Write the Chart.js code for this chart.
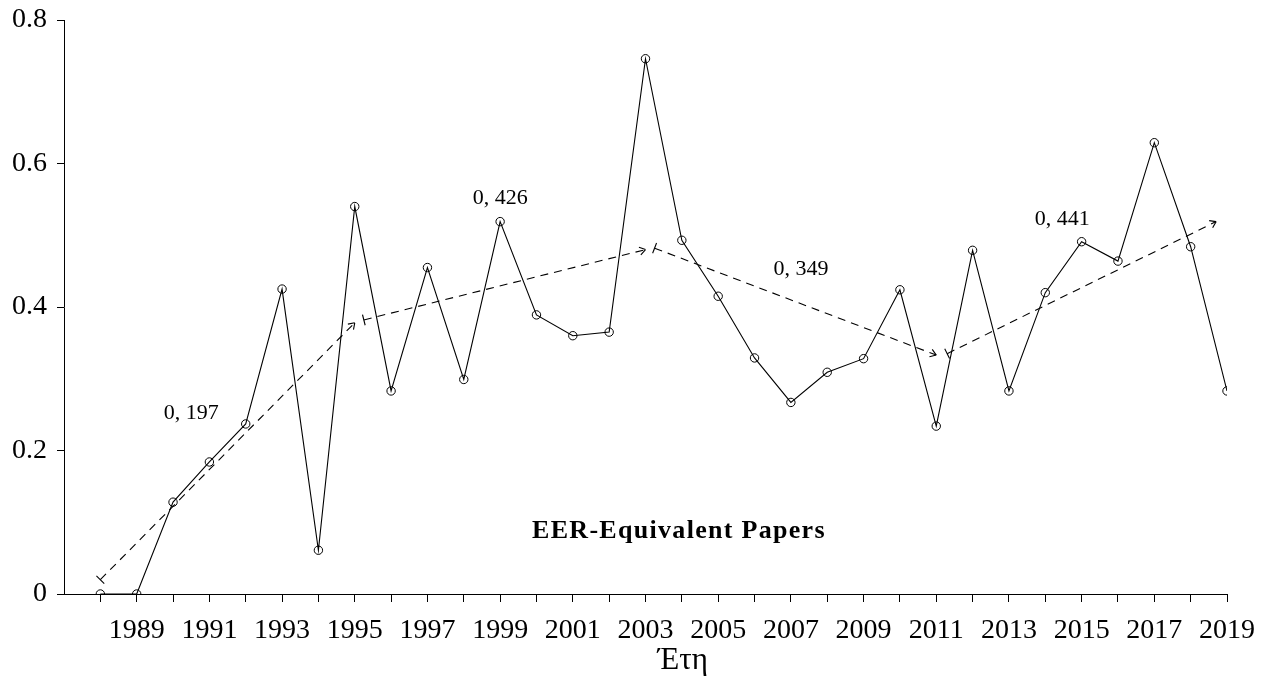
<!DOCTYPE html>
<html>
<head>
<meta charset="utf-8">
<script src="https://cdn.jsdelivr.net/npm/chart.js@4.4.1/dist/chart.umd.min.js"></script>
<style>
  body { margin: 0; background: #fff; }
  #wrap { width: 1270px; height: 695px; }
</style>
</head>
<body>
<div id="wrap"><canvas id="eer-chart"></canvas></div>
<script>
// Years and yearly values
const years = [1988, 1989, 1990, 1991, 1992, 1993, 1994, 1995,
               1996, 1997, 1998, 1999, 2000, 2001, 2002, 2003,
               2004, 2005, 2006, 2007, 2008, 2009, 2010, 2011,
               2012, 2013, 2014, 2015, 2016, 2017, 2018, 2019];
const values = [0, 0, 0.128, 0.184, 0.237, 0.425, 0.061, 0.540,
                0.283, 0.455, 0.299, 0.519, 0.389, 0.360, 0.365, 0.746,
                0.493, 0.415, 0.329, 0.267, 0.309, 0.328, 0.424, 0.234,
                0.479, 0.283, 0.420, 0.491, 0.464, 0.629, 0.484, 0.283];

// Dashed trend arrows, one per period
const trendFromYear = [1988, 1995.25, 2003.25, 2011.3];
const trendToYear = [1995, 2003, 2011, 2018.7];
const trendFromVal = [0.020, 0.382, 0.482, 0.335];
const trendToVal = [0.378, 0.480, 0.333, 0.519];

// Period means written on the chart
const meanLabels = ['0, 197', '0, 426', '0, 349', '0, 441'];
const meanX = [1990.5, 1999.0, 2007.28, 2014.47];
const meanY = [0.252, 0.552, 0.4525, 0.522];

const yTicks = [0, 0.2, 0.4, 0.6, 0.8];
const seriesName = 'EER-Equivalent Papers';
const xTitle = 'Έτη';

const serif = "'Liberation Serif', 'DejaVu Serif', serif";

const datasets = [{
    label: seriesName,
    data: years.map((y, i) => ({ x: y, y: values[i] })),
    borderColor: '#000',
    borderWidth: 1.1,
    backgroundColor: 'transparent',
    pointStyle: 'circle',
    pointRadius: 4.2,
    pointBorderWidth: 1,
    pointBorderColor: '#000',
    pointBackgroundColor: 'transparent',
    tension: 0
}];
trendFromYear.forEach((fx, i) => {
    datasets.push({
        label: 'trend' + i,
        data: [{ x: fx, y: trendFromVal[i] }, { x: trendToYear[i], y: trendToVal[i] }],
        borderColor: '#000',
        borderWidth: 1.1,
        borderDash: [8, 6],
        pointRadius: 0,
        isTrend: true
    });
});

// bar at start, open arrow head at end of each trend line + text
const decorations = {
    id: 'decorations',
    afterDatasetsDraw: (chart) => {
        const ctx = chart.ctx;
        const xs = chart.scales.x;
        const ys = chart.scales.y;
        ctx.save();
        ctx.strokeStyle = '#000';
        ctx.lineWidth = 1.1;
        chart.data.datasets.forEach((ds, i) => {
            if (!ds.isTrend) return;
            const pts = chart.getDatasetMeta(i).data;
            const a = pts[0], b = pts[1];
            const ang = Math.atan2(b.y - a.y, b.x - a.x);
            const nx = -Math.sin(ang), ny = Math.cos(ang);
            ctx.beginPath();
            ctx.moveTo(a.x + nx * 5.5, a.y + ny * 5.5);
            ctx.lineTo(a.x - nx * 5.5, a.y - ny * 5.5);
            ctx.stroke();
            ctx.beginPath();
            [0.6, -0.6].forEach(d => {
                ctx.moveTo(b.x, b.y);
                ctx.lineTo(b.x - 7 * Math.cos(ang + d), b.y - 7 * Math.sin(ang + d));
            });
            ctx.stroke();
        });

        ctx.fillStyle = '#000';
        ctx.textAlign = 'center';
        ctx.textBaseline = 'middle';
        ctx.font = '22px ' + serif;
        meanLabels.forEach((t, i) => {
            ctx.fillText(t, xs.getPixelForValue(meanX[i]), ys.getPixelForValue(meanY[i]));
        });

        ctx.font = 'bold 26px ' + serif;
        ctx.letterSpacing = '1.3px';
        ctx.fillText(seriesName, xs.getPixelForValue(2003.92), ys.getPixelForValue(0.088));
        ctx.letterSpacing = '0px';

        ctx.font = '31px ' + serif;
        ctx.fillText(xTitle, xs.getPixelForValue(2004.03), 661);
        ctx.restore();
    }
};

new Chart(document.querySelector('#eer-chart'), {
    type: 'line',
    data: { datasets: datasets },
    options: {
        responsive: true,
        maintainAspectRatio: false,
        animation: false,
        layout: { padding: { left: 0, right: 43, top: 20, bottom: 0 } },
        scales: {
            x: {
                type: 'linear',
                min: 1987,
                max: 2019,
                afterFit: (scale) => { scale.height = 101; },
                grid: {
                    drawOnChartArea: false,
                    drawTicks: true,
                    tickLength: 8,
                    color: (c) => (c.tick && c.tick.value === 1987) ? 'transparent' : '#000'
                },
                border: { display: true, color: '#000', width: 1 },
                ticks: {
                    stepSize: 1,
                    autoSkip: false,
                    maxRotation: 0,
                    padding: 12,
                    color: '#000',
                    font: { family: serif, size: 28 },
                    callback: (v) => (v % 2 === 1 && v >= 1989) ? String(v) : ''
                }
            },
            y: {
                min: 0,
                max: 0.8,
                afterFit: (scale) => {
                    scale.width = 64;
                    scale.paddingTop = 0;
                    scale.paddingBottom = 0;
                },
                afterBuildTicks: (scale) => { scale.ticks = yTicks.map(v => ({ value: v })); },
                grid: {
                    drawOnChartArea: false,
                    drawTicks: true,
                    tickLength: 7,
                    color: '#000'
                },
                border: { display: true, color: '#000', width: 1 },
                ticks: {
                    padding: 10,
                    color: '#000',
                    font: { family: serif, size: 28 },
                    callback: (v) => v === 0 ? '0' : v.toFixed(1)
                }
            }
        },
        plugins: {
            legend: { display: false },
            tooltip: { enabled: false }
        }
    },
    plugins: [decorations]
});
</script>
</body>
</html>
